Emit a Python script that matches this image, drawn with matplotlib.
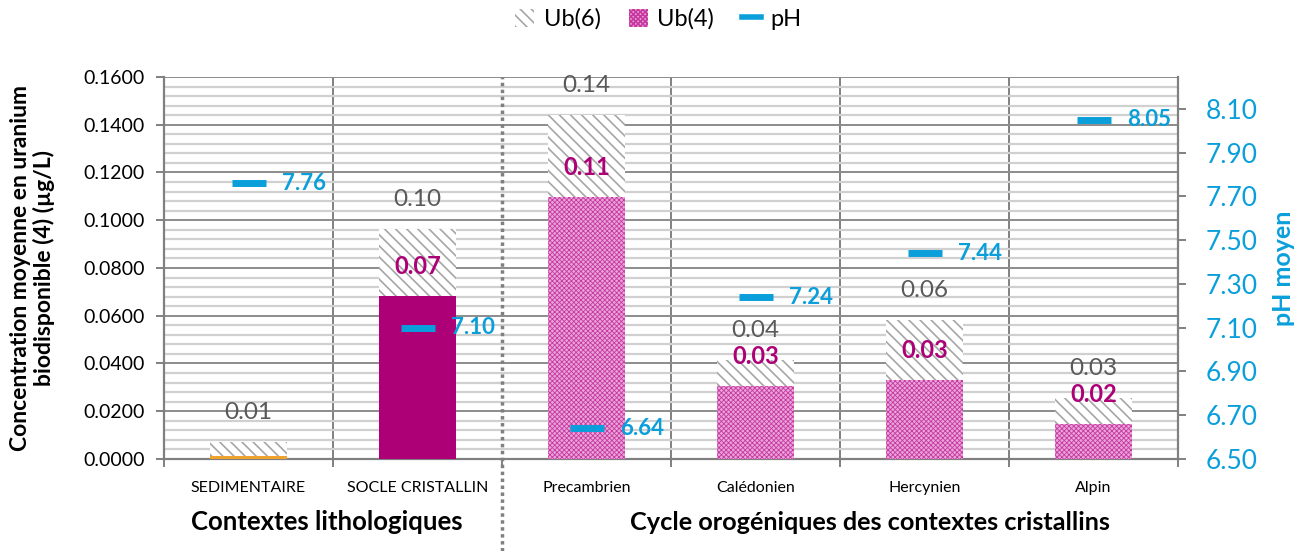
import numpy as np
import matplotlib
matplotlib.use("Agg")
import matplotlib.pyplot as plt
from matplotlib.patches import Patch
from matplotlib.lines import Line2D
from matplotlib.ticker import MultipleLocator, FormatStrFormatter

plt.rcParams['font.family'] = ['Lato', 'DejaVu Sans']
plt.rcParams['hatch.linewidth'] = 1.2

categories = ['SEDIMENTAIRE', 'SOCLE CRISTALLIN', 'Precambrien', 'Calédonien', 'Hercynien', 'Alpin']
ub6 = [0.0073, 0.0963, 0.1441, 0.0415, 0.0582, 0.0257]
ub4 = [0.0013, 0.0683, 0.1099, 0.0307, 0.0331, 0.0147]
ub6_labels = ['0.01', '0.10', '0.14', '0.04', '0.06', '0.03']
ub4_labels = ['', '0.07', '0.11', '0.03', '0.03', '0.02']
ph = [7.76, 7.10, 6.64, 7.24, 7.44, 8.05]

MAG = '#AD0077'
BLUE = '#0A9FDB'
GRAY = '#808080'
PINK = '#E8A4DA'
PINK_H = '#C8399F'

fig = plt.figure(figsize=(13.04, 5.51), dpi=100)
ax = fig.add_axes([0.1258, 0.167, 0.7776, 0.6933])
x = np.arange(len(categories))
w = 0.46

# grid
ax.set_ylim(0, 0.16)
ax.set_xlim(-0.5, 5.5)
ax.yaxis.set_major_locator(MultipleLocator(0.02))
ax.yaxis.set_minor_locator(MultipleLocator(0.004))
ax.yaxis.set_major_formatter(FormatStrFormatter('%.4f'))
ax.grid(axis='y', which='minor', color='#D0D0D0', lw=1.6, zorder=0)
ax.grid(axis='y', which='major', color='#8C8C8C', lw=1.4, zorder=0)
ax.tick_params(axis='y', which='minor', length=0)
for b in [0.5, 2.5, 3.5, 4.5]:
    ax.axvline(b, color=GRAY, lw=1.4, zorder=0.5)

# bars: Ub(6) behind, Ub(4) in front
ax.bar(x, ub6, w, facecolor='white', edgecolor='#A6A6A6', hatch='\\\\\\', lw=0, zorder=2)
colors4 = ['#F0A22E', MAG, PINK, PINK, PINK, PINK]
hatches4 = ['', '', 'xxxxxxx', 'xxxxxxx', 'xxxxxxx', 'xxxxxxx']
with plt.rc_context({'hatch.linewidth': 0.6}):
    for i in range(len(x)):
        ax.bar(x[i], ub4[i], w * 0.98, facecolor=colors4[i], edgecolor=PINK_H if hatches4[i] else colors4[i],
               hatch=hatches4[i], lw=0, zorder=3)

for i in range(len(x)):
    ax.annotate(ub6_labels[i], (x[i], ub6[i]), xytext=(0, 21), textcoords='offset points',
                ha='center', va='center', fontsize=17.5, color='#595959', zorder=6)
    if ub4_labels[i]:
        ax.annotate(ub4_labels[i], (x[i], ub4[i]), xytext=(0, 21), textcoords='offset points',
                    ha='center', va='center', fontsize=17, color=MAG, fontweight='bold', zorder=6)

ax.set_xticks(x)
ax.set_xticklabels(categories, fontsize=11.5)
ax.set_xticks(np.arange(-0.5, 6, 1), minor=True)
ax.tick_params(axis='x', which='major', length=0, pad=16)
ax.tick_params(axis='x', which='minor', length=6, width=1.4, color=GRAY)
ax.tick_params(axis='y', which='major', length=6, width=1.4, color=GRAY, labelsize=14, pad=8)
for s in ['top', 'right']:
    ax.spines[s].set_visible(False)
for s in ['left', 'bottom']:
    ax.spines[s].set_color(GRAY)
    ax.spines[s].set_linewidth(1.6)
ax.set_ylabel('Concentration moyenne en uranium\nbiodisponible (4) (µg/L)', fontsize=16.5,
              fontweight='bold', labelpad=20, linespacing=1.15)

# pH on secondary axis
ax2 = ax.twinx()
ax2.set_ylim(6.5, 8.246)
ax2.set_yticks(np.arange(6.5, 8.11, 0.2))
ax2.yaxis.set_major_formatter(FormatStrFormatter('%.2f'))
ax2.plot(x, ph, ls='none', marker='_', ms=24, mew=5, color=BLUE, zorder=5)
for i in range(len(x)):
    ax2.annotate('%.2f' % ph[i], (x[i], ph[i]), xytext=(24, 0), textcoords='offset points',
                 ha='left', va='center', fontsize=16, color=BLUE, fontweight='bold')
ax2.tick_params(axis='y', length=6, width=1.4, color=GRAY, labelcolor=BLUE, labelsize=19, pad=14)
for s in ['top', 'left', 'bottom']:
    ax2.spines[s].set_visible(False)
ax2.spines['right'].set_color(GRAY)
ax2.spines['right'].set_linewidth(1.6)
ax2.set_ylabel('pH moyen', fontsize=18, fontweight='bold', color=BLUE, labelpad=10)

# separator between groups
xs = ax.transData.transform((1.5, 0))[0]
xf = fig.transFigure.inverted().transform((xs, 0))[0]
fig.add_artist(Line2D([xf, xf], [0.0, 0.8603], color=GRAY, lw=2.5, ls=(0, (1, 1))))

fig.text(0.2508, 0.052, 'Contextes lithologiques', ha='center', va='center', fontsize=18.5, fontweight='bold')
fig.text(0.6672, 0.052, 'Cycle orogéniques des contextes cristallins', ha='center', va='center',
         fontsize=18.2, fontweight='bold')

handles = [Patch(facecolor='white', edgecolor='#A6A6A6', hatch='\\\\\\', lw=0),
           Patch(facecolor=PINK, edgecolor=PINK_H, hatch='xxxxxxx', lw=0),
           Line2D([], [], color=BLUE, lw=4)]
fig.legend(handles, ['Ub(6)', 'Ub(4)', 'pH'], loc='center', bbox_to_anchor=(0.505, 0.965), ncol=3,
           frameon=False, fontsize=17, handlelength=0.8, handleheight=0.8, columnspacing=1.2,
           handletextpad=0.4)

fig.savefig('out.png', dpi=100)
